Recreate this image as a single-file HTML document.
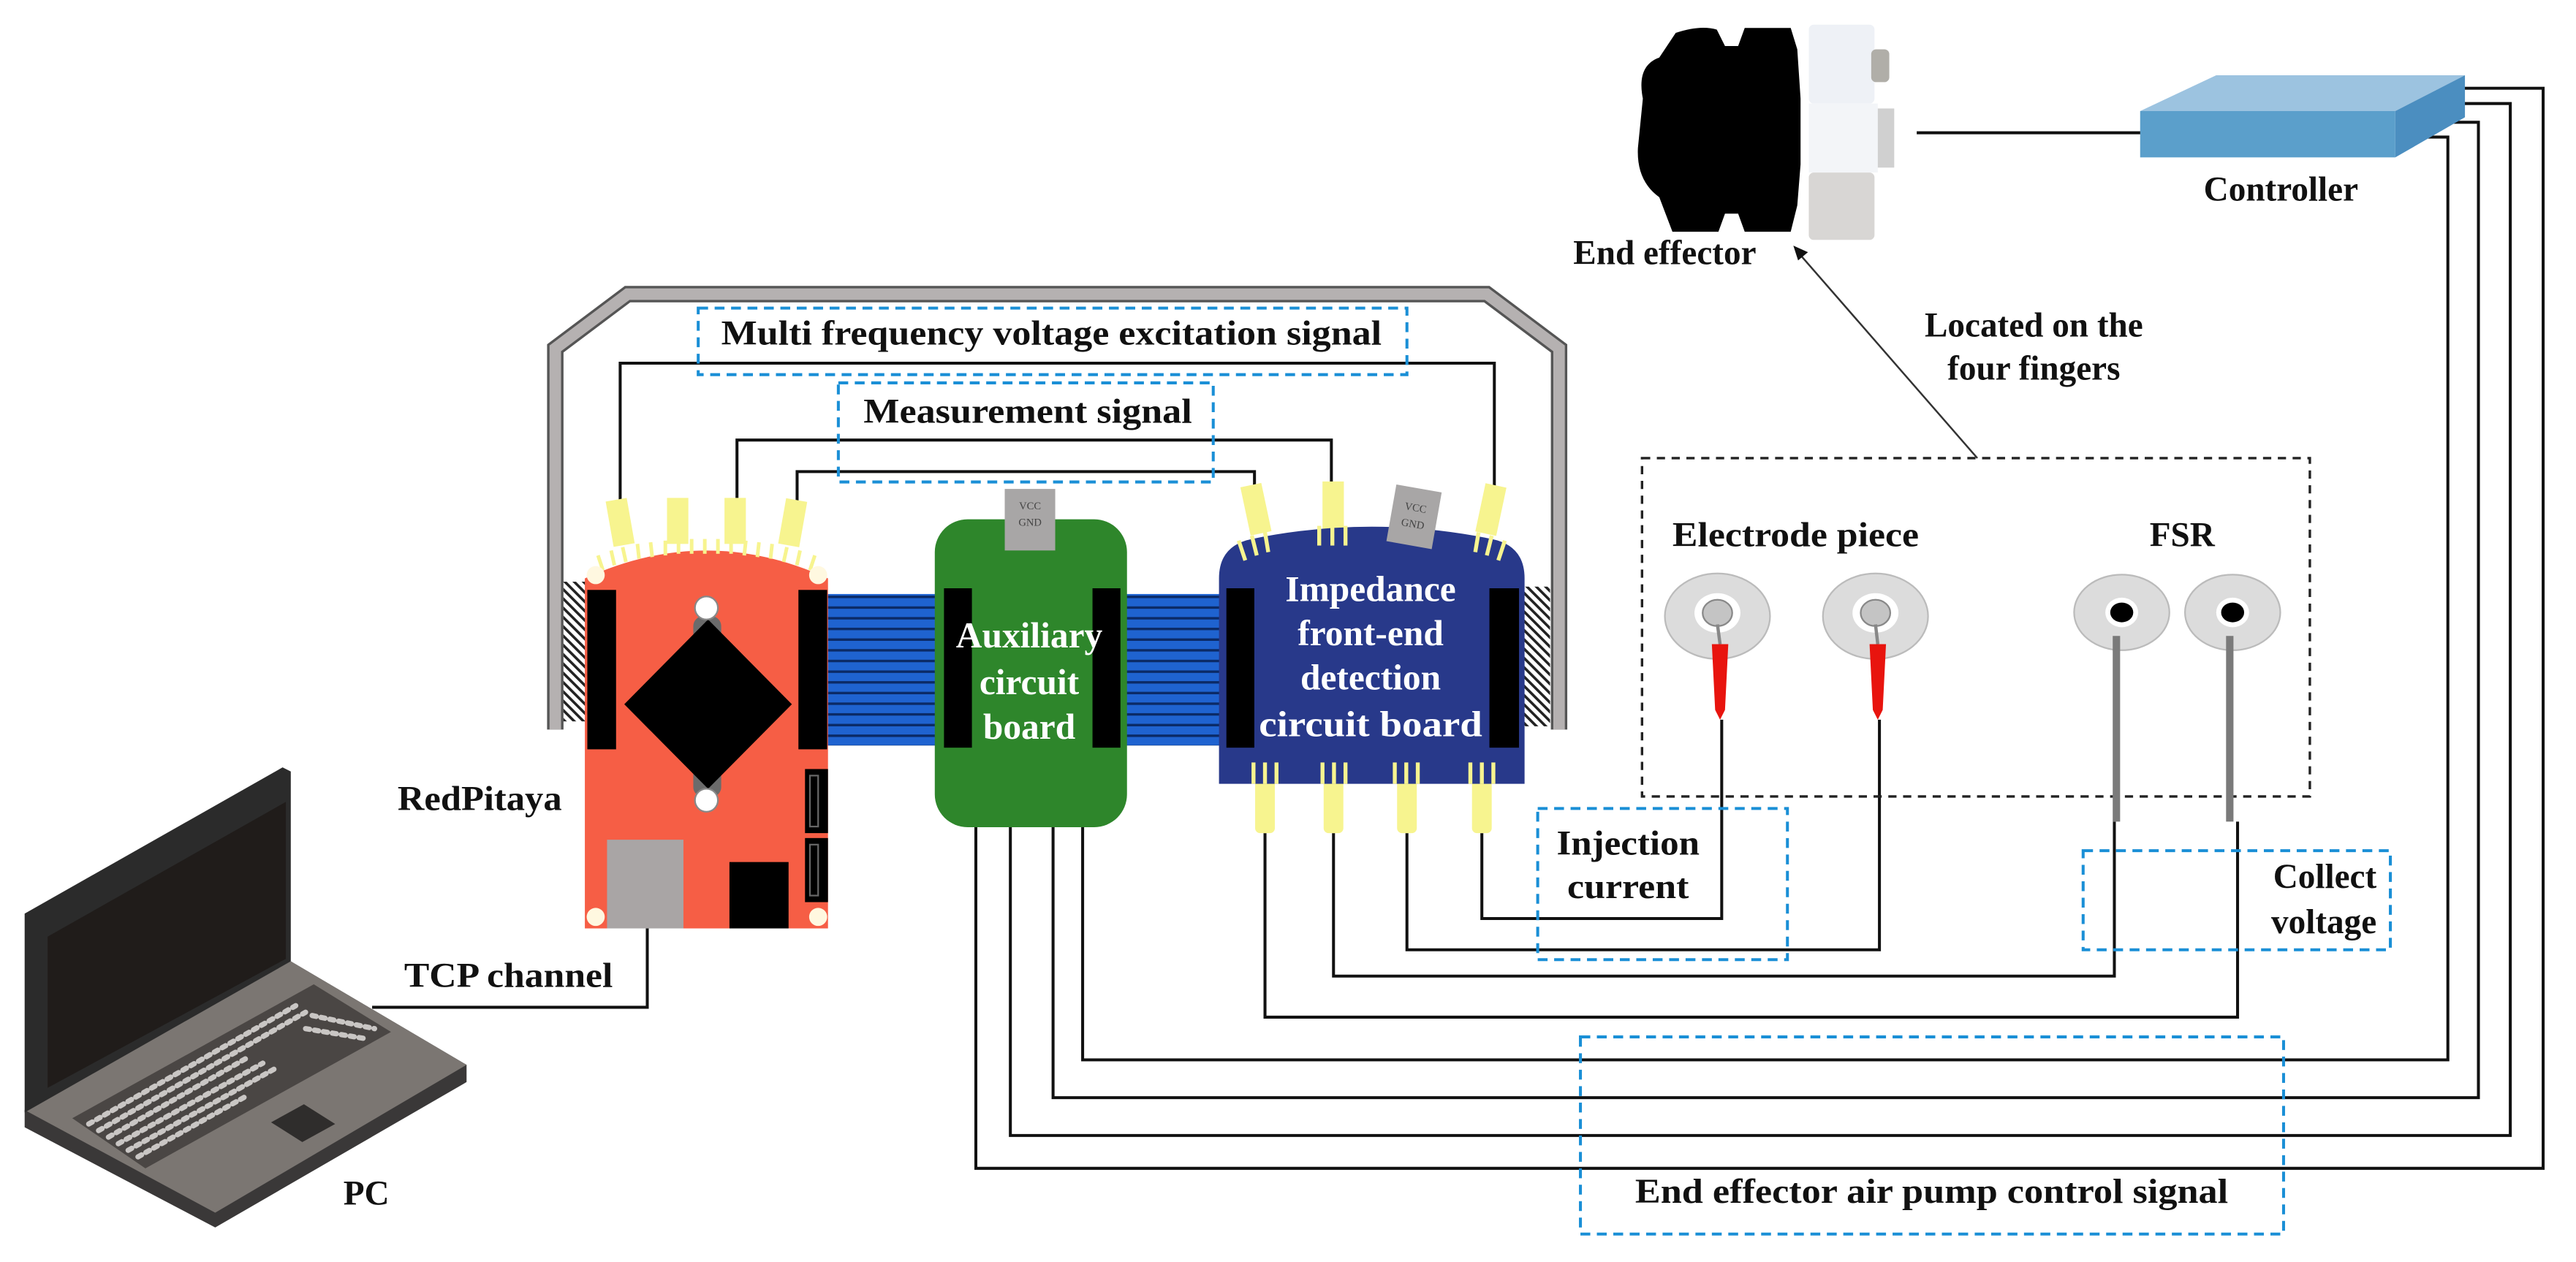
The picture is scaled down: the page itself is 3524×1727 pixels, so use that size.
<!DOCTYPE html>
<html><head><meta charset="utf-8"><style>
html,body{margin:0;padding:0;background:#fff;}
svg{display:block}
text{font-family:"Liberation Serif",serif;font-weight:bold;fill:#111}
</style></head><body>
<svg width="3524" height="1727" viewBox="0 0 1568 768" preserveAspectRatio="none" xmlns="http://www.w3.org/2000/svg">
<defs>
<pattern id="rib" width="10" height="6.5" patternUnits="userSpaceOnUse">
<rect width="10" height="6.5" fill="#1f63d0"/><rect y="5" width="10" height="1.5" fill="#0b2a66"/>
</pattern>
<pattern id="hat" width="4" height="4" patternUnits="userSpaceOnUse" patternTransform="rotate(-45)">
<rect width="4" height="4" fill="#fff"/><rect width="1.6" height="4" fill="#222"/>
</pattern>
</defs>

<!-- gray bracket -->
<path d="M338,444 L338,212 L382,179 L905,179 L949,212 L949,444" fill="none" stroke="#555" stroke-width="10"/>
<path d="M338,444 L338,212 L382,179 L905,179 L949,212 L949,444" fill="none" stroke="#b5b1b1" stroke-width="7"/>

<!-- signal lines top -->
<g fill="none" stroke="#111" stroke-width="1.8">
<path d="M377.5,305 V221 H909.6 V305"/>
<path d="M448.6,308 V267.8 H810.4 V296"/>
<path d="M485.2,312 V287 H763.6 V300"/>
<!-- TCP -->
<path d="M226.5,613 H394 V565"/>
<!-- green board lines to controller -->
<path d="M659,503 V645 H1490 V83.4 H1468"/>
<path d="M641,503 V668 H1508.6 V74.4 H1478"/>
<path d="M615,503 V691 H1528 V63 H1487"/>
<path d="M594,503 V711 H1548 V53.7 H1496.6"/>
<!-- navy lines -->
<path d="M770,507 V619 H1362 V500"/>
<path d="M811.7,507 V594 H1287 V500"/>
<path d="M856.4,507 V578 H1144 V438"/>
<path d="M902,507 V559 H1048 V438"/>
<!-- end effector to controller -->
<path d="M1166.7,80.8 H1303"/>
</g>

<!-- blue dashed boxes -->
<g fill="none" stroke="#1a8fd6" stroke-width="1.8" stroke-dasharray="6,4">
<rect x="425" y="187.5" width="431.4" height="40.5"/>
<rect x="510.3" y="233" width="228.2" height="60.3"/>
<rect x="936" y="492" width="152" height="92"/>
<rect x="1268" y="517.7" width="187" height="60.3"/>
<rect x="962" y="631" width="428" height="120"/>
</g>
<text x="439" y="209.6" font-size="21" textLength="402" lengthAdjust="spacingAndGlyphs">Multi frequency voltage excitation signal</text>
<text x="525.6" y="257.3" font-size="21" textLength="200" lengthAdjust="spacingAndGlyphs">Measurement signal</text>

<!-- hatches -->
<rect x="343" y="354" width="14.5" height="85" fill="url(#hat)"/>
<rect x="924.5" y="357" width="19" height="85" fill="url(#hat)"/>

<!-- ribbons -->
<rect x="503" y="361.5" width="74.6" height="92.2" fill="url(#rib)"/>
<rect x="676.7" y="361.5" width="75.3" height="92.2" fill="url(#rib)"/>

<!-- RedPitaya yellow connectors -->
<g fill="#f7f48f">
<rect x="371" y="304" width="13" height="28" transform="rotate(-10 377 318)"/>
<rect x="406" y="303" width="13" height="28"/>
<rect x="441" y="303" width="13" height="28"/>
<rect x="476" y="304" width="13" height="28" transform="rotate(10 482 318)"/>
</g>
<!-- RedPitaya board -->
<path d="M356,565 L356,352 Q430,318 504,352 L504,565 Z" fill="#f65e45"/>
<g stroke="#f7f48f" stroke-width="2.2">
<line x1="367" y1="347" x2="364" y2="338"/><line x1="374" y1="344" x2="372" y2="335"/><line x1="381" y1="342" x2="379" y2="333"/>
<line x1="389" y1="340" x2="388" y2="331"/><line x1="397" y1="339" x2="396" y2="330"/><line x1="405" y1="338" x2="405" y2="329"/>
<line x1="413" y1="337" x2="413" y2="328"/><line x1="421" y1="337" x2="421" y2="328"/><line x1="429" y1="337" x2="429" y2="328"/>
<line x1="437" y1="337" x2="437" y2="328"/><line x1="445" y1="337" x2="445" y2="328"/><line x1="453" y1="338" x2="454" y2="329"/>
<line x1="461" y1="339" x2="462" y2="330"/><line x1="469" y1="340" x2="470" y2="331"/><line x1="477" y1="342" x2="479" y2="333"/>
<line x1="485" y1="344" x2="487" y2="335"/><line x1="493" y1="347" x2="496" y2="338"/>
</g>
<rect x="357.5" y="359" width="17.5" height="97" fill="#000"/>
<rect x="486" y="359" width="17.5" height="97" fill="#000"/>
<rect x="422" y="375" width="17" height="110" rx="6" fill="#6b6b6b"/>
<polygon points="431,377 482,428.6 431,480 380,428.6" fill="#000"/>
<circle cx="430" cy="370" r="7" fill="#fff" stroke="#888" stroke-width="1"/>
<circle cx="430" cy="487" r="7" fill="#fff" stroke="#888" stroke-width="1"/>
<g fill="#fff8e0"><circle cx="362.6" cy="350" r="5.5"/><circle cx="498" cy="350" r="5.5"/><circle cx="362.6" cy="558" r="5.5"/><circle cx="498" cy="558" r="5.5"/></g>
<rect x="369.5" y="511" width="46.5" height="54" fill="#a9a5a5"/>
<rect x="444" y="524.6" width="36" height="40.4" fill="#000"/>
<rect x="490" y="468" width="14" height="39" fill="#000"/>
<rect x="490" y="510" width="14" height="39" fill="#000"/>
<rect x="493" y="472" width="5" height="31" fill="none" stroke="#666" stroke-width="1"/>
<rect x="493" y="514" width="5" height="31" fill="none" stroke="#666" stroke-width="1"/>
<text x="242" y="493" font-size="21" textLength="100" lengthAdjust="spacingAndGlyphs">RedPitaya</text>

<!-- green auxiliary board -->
<rect x="611.6" y="297.6" width="30.7" height="37.4" fill="#a8a6a6"/>
<rect x="569" y="316" width="117" height="187.4" rx="20" fill="#2e862b"/>
<rect x="611.6" y="297.6" width="30.7" height="37.4" fill="#a8a6a6"/>
<text x="627" y="310" font-size="6.5" text-anchor="middle" style="font-weight:normal;fill:#444">VCC</text>
<text x="627" y="320" font-size="6.5" text-anchor="middle" style="font-weight:normal;fill:#444">GND</text>
<rect x="574.6" y="358" width="17" height="97" fill="#000"/>
<rect x="665" y="358" width="17" height="97" fill="#000"/>
<g style="fill:#fff" font-size="22" text-anchor="middle">
<text x="626.5" y="394" style="fill:#fff">Auxiliary</text>
<text x="626.5" y="422.5" style="fill:#fff">circuit</text>
<text x="626.5" y="449.5" style="fill:#fff">board</text>
</g>

<!-- navy board connectors -->
<g fill="#f7f48f">
<rect x="758" y="295" width="13" height="30" transform="rotate(-12 764 310)"/>
<rect x="805" y="293" width="13" height="30"/>
<rect x="901" y="295" width="13" height="30" transform="rotate(12 907 310)"/>
<rect x="764" y="470" width="12" height="37" rx="3"/>
<rect x="805.7" y="470" width="12" height="37" rx="3"/>
<rect x="850.4" y="470" width="12" height="37" rx="3"/>
<rect x="896" y="470" width="12" height="37" rx="3"/>
</g>
<path d="M742,477 L742,352 Q742,332 762,328 Q835,313 908,328 Q928,332 928,352 L928,477 Z" fill="#28398a"/>
<g stroke="#f7f48f" stroke-width="2.4">
<line x1="758" y1="341" x2="754" y2="329"/><line x1="765" y1="338" x2="762" y2="326"/><line x1="772" y1="336" x2="770" y2="324"/>
<line x1="803" y1="332" x2="803" y2="320"/><line x1="811" y1="332" x2="811" y2="320"/><line x1="819" y1="332" x2="819" y2="320"/>
<line x1="898" y1="336" x2="900" y2="324"/><line x1="905" y1="338" x2="908" y2="326"/><line x1="912" y1="341" x2="916" y2="329"/>
<line x1="763" y1="477" x2="763" y2="464"/><line x1="770" y1="477" x2="770" y2="464"/><line x1="777" y1="477" x2="777" y2="464"/>
<line x1="805" y1="477" x2="805" y2="464"/><line x1="812" y1="477" x2="812" y2="464"/><line x1="819" y1="477" x2="819" y2="464"/>
<line x1="849" y1="477" x2="849" y2="464"/><line x1="856" y1="477" x2="856" y2="464"/><line x1="863" y1="477" x2="863" y2="464"/>
<line x1="895" y1="477" x2="895" y2="464"/><line x1="902" y1="477" x2="902" y2="464"/><line x1="909" y1="477" x2="909" y2="464"/>
</g>
<g transform="rotate(10 860.7 314.6)">
<rect x="846.7" y="297" width="28" height="35" fill="#a8a6a6"/>
<text x="860.7" y="311" font-size="6.5" text-anchor="middle" style="font-weight:normal;fill:#444">VCC</text>
<text x="860.7" y="321" font-size="6.5" text-anchor="middle" style="font-weight:normal;fill:#444">GND</text>
</g>
<rect x="746.5" y="358" width="17" height="97" fill="#000"/>
<rect x="906.6" y="358" width="18" height="97" fill="#000"/>
<g font-size="22" text-anchor="middle">
<text x="834.3" y="365.7" style="fill:#fff">Impedance</text>
<text x="834.3" y="392.7" style="fill:#fff">front-end</text>
<text x="834.3" y="419.6" style="fill:#fff">detection</text>
<text x="834.3" y="448" style="fill:#fff" textLength="136" lengthAdjust="spacingAndGlyphs">circuit board</text>
</g>

<!-- laptop -->
<polygon points="15,675.5 177,585 284,648 284,658.5 131,747 15,686" fill="#3a3838"/>
<polygon points="15,675.5 177,585 284,648 131,738" fill="#7b7672"/>
<polygon points="15,556 172,467 177,469.5 177,585 15,677" fill="#2b2b2b"/>
<polygon points="29,570 174,488 174,583.5 29,662" fill="#201c1a"/>
<polygon points="44,680.5 191,599 238,628 88.5,711" fill="#4a4644"/>
<g stroke="#c9c6c4" stroke-width="3.2" stroke-linecap="round" stroke-dasharray="2.5,3">
<line x1="54" y1="684" x2="180" y2="612"/>
<line x1="60" y1="688" x2="186" y2="616"/>
<line x1="66" y1="692" x2="150" y2="644"/>
<line x1="72" y1="696" x2="160" y2="647"/>
<line x1="78" y1="700" x2="168" y2="650"/>
<line x1="84" y1="704" x2="150" y2="667"/>
<line x1="190" y1="618" x2="228" y2="626"/>
<line x1="186" y1="626" x2="222" y2="632"/>
</g>
<polygon points="165,683 185,672 204,684 184,695" fill="#2f2d2c"/>
<text x="223" y="733" font-size="21" text-anchor="middle">PC</text>
<text x="246" y="600.5" font-size="21" textLength="127" lengthAdjust="spacingAndGlyphs">TCP channel</text>

<!-- end effector -->
<path d="M1000,60 Q996,40 1010,35 L1020,20 Q1035,15 1045,18 L1050,28 L1058,28 L1062,17 L1090,17 L1094,30 L1096,60 L1096,100 L1094,125 L1090,141 L1062,141 L1058,130 L1050,130 L1046,141 L1018,141 L1010,120 Q996,110 997,90 Z" fill="#000"/>
<rect x="1101" y="15" width="40" height="48" rx="3" fill="#eef1f6"/>
<rect x="1101" y="63" width="42" height="42" fill="#f3f5f8"/>
<rect x="1101" y="105" width="40" height="41" rx="3" fill="#d8d6d4"/>
<rect x="1143" y="66" width="10" height="36" fill="#d0d0d0"/>
<rect x="1139" y="30" width="11" height="20" rx="3" fill="#b0aea8"/>
<text x="1069" y="160.8" font-size="21" text-anchor="end">End effector</text>

<!-- controller -->
<polygon points="1302.7,67.6 1349,45.8 1500.4,45.8 1458,67.6" fill="#9cc3e0"/>
<polygon points="1302.7,67.6 1458,67.6 1458,95.8 1302.7,95.8" fill="#5b9fcb"/>
<polygon points="1458,67.6 1500.4,45.8 1500.4,71.4 1458,95.8" fill="#4b8ec0"/>
<text x="1388.4" y="122" font-size="21" text-anchor="middle">Controller</text>

<!-- arrow -->
<line x1="1203.6" y1="278.8" x2="1094" y2="153" stroke="#333" stroke-width="1.1"/>
<polygon points="1091.6,149.5 1100.5,153.5 1094.5,158.5" fill="#111"/>
<text x="1238" y="204.8" font-size="21" text-anchor="middle">Located on the</text>
<text x="1238" y="231" font-size="21" text-anchor="middle">four fingers</text>

<!-- black dashed box -->
<rect x="999.5" y="278.8" width="406.5" height="205.9" fill="none" stroke="#222" stroke-width="1.5" stroke-dasharray="5,4"/>
<text x="1018" y="332.5" font-size="21" textLength="150" lengthAdjust="spacingAndGlyphs">Electrode piece</text>
<text x="1328.3" y="332.5" font-size="21" text-anchor="middle">FSR</text>

<!-- electrodes -->
<g>
<ellipse cx="1045.4" cy="375" rx="32" ry="26" fill="#dcdcdc" stroke="#bbb"/>
<ellipse cx="1045.4" cy="373" rx="14" ry="12" fill="#fff"/>
<ellipse cx="1045.4" cy="373" rx="9" ry="8" fill="#c4c4c4" stroke="#888"/>
<line x1="1045.4" y1="380" x2="1047" y2="392" stroke="#888" stroke-width="2"/>
<path d="M1042,392 L1052,392 L1050,432 L1047,438 L1044,432 Z" fill="#e8140e"/>
<ellipse cx="1141.6" cy="375" rx="32" ry="26" fill="#dcdcdc" stroke="#bbb"/>
<ellipse cx="1141.6" cy="373" rx="14" ry="12" fill="#fff"/>
<ellipse cx="1141.6" cy="373" rx="9" ry="8" fill="#c4c4c4" stroke="#888"/>
<line x1="1141.6" y1="380" x2="1143" y2="392" stroke="#888" stroke-width="2"/>
<path d="M1138,392 L1148,392 L1146,432 L1143,438 L1140,432 Z" fill="#e8140e"/>
<ellipse cx="1291.5" cy="372.7" rx="29" ry="23" fill="#dcdcdc" stroke="#bbb"/>
<ellipse cx="1291.5" cy="372.7" rx="10" ry="9" fill="#fff"/>
<ellipse cx="1291.5" cy="372.7" rx="7" ry="6" fill="#000"/>
<ellipse cx="1359" cy="372.7" rx="29" ry="23" fill="#dcdcdc" stroke="#bbb"/>
<ellipse cx="1359" cy="372.7" rx="10" ry="9" fill="#fff"/>
<ellipse cx="1359" cy="372.7" rx="7" ry="6" fill="#000"/>
<rect x="1286" y="387" width="4.5" height="113" fill="#7a7a7a"/>
<rect x="1355" y="387" width="4.5" height="113" fill="#7a7a7a"/>
</g>

<!-- labels in boxes -->
<text x="991" y="520" font-size="21" text-anchor="middle" textLength="87" lengthAdjust="spacingAndGlyphs">Injection</text>
<text x="991" y="546.6" font-size="21" text-anchor="middle" textLength="74" lengthAdjust="spacingAndGlyphs">current</text>
<text x="1446.6" y="540.3" font-size="21" text-anchor="end">Collect</text>
<text x="1446.6" y="568" font-size="21" text-anchor="end">voltage</text>
<text x="995.3" y="732" font-size="21" textLength="361" lengthAdjust="spacingAndGlyphs">End effector air pump control signal</text>
</svg>
</body></html>
